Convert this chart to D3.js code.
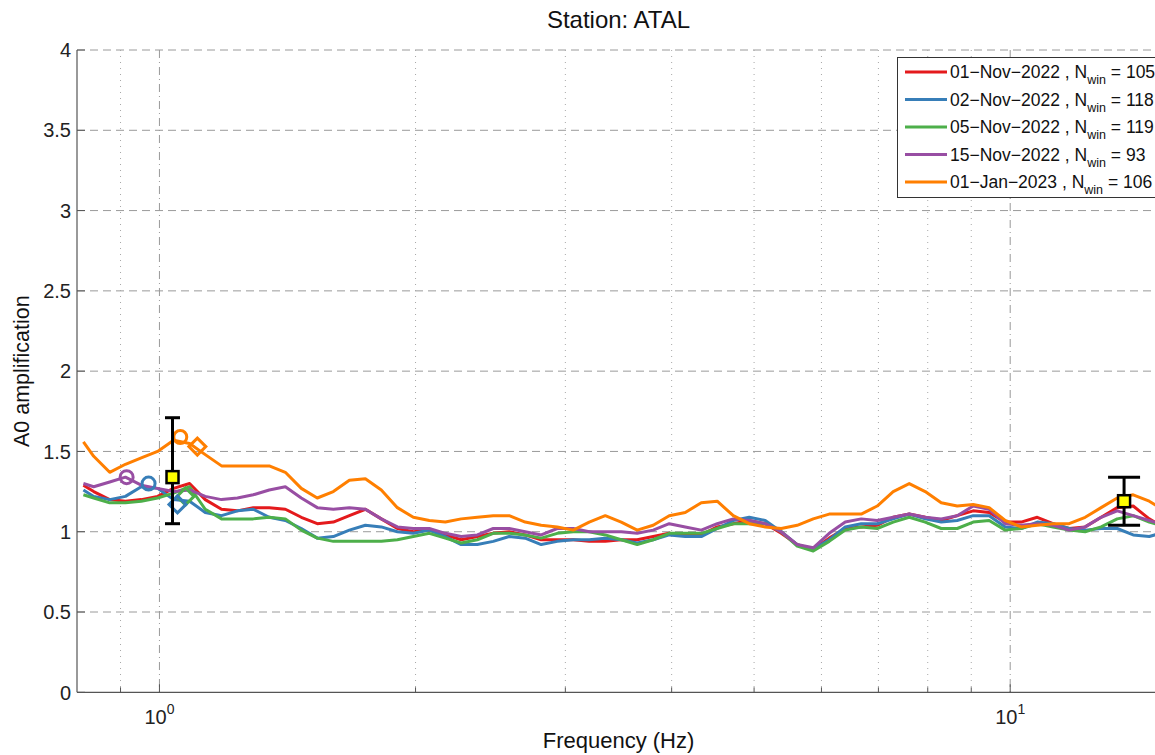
<!DOCTYPE html>
<html><head><meta charset="utf-8">
<script src="https://cdn.jsdelivr.net/npm/d3@7"></script>
<style>
html,body{margin:0;padding:0;background:#fff;overflow:hidden;}
svg{display:block;font-family:"Liberation Sans",Arial,Helvetica,sans-serif;}
</style></head>
<body><svg id="c" width="1155" height="755"></svg>
<script>
// ---------------- data ----------------
const freq = [0.814,0.837,0.874,0.912,0.952,0.995,1.039,1.085,1.132,1.183,1.235,1.289,1.346,1.406,1.468,1.533,1.601,1.672,1.746,1.823,1.904,1.988,2.076,2.168,2.263,2.364,2.468,2.577,2.691,2.810,2.935,3.065,3.200,3.342,3.490,3.644,3.805,3.974,4.150,4.334,4.525,4.726,4.935,5.153,5.381,5.619,5.868,6.127,6.399,6.682,6.977,7.286,7.609,7.945,8.297,8.664,9.047,9.447,9.866,10.30,10.76,11.23,11.73,12.25,12.79,13.36,13.95,14.57,15.0];

const nov01 = [1.29,1.25,1.20,1.19,1.20,1.22,1.27,1.30,1.20,1.14,1.13,1.15,1.15,1.14,1.09,1.05,1.06,1.10,1.14,1.08,1.02,1.00,1.01,0.98,0.95,0.97,0.99,1.00,0.98,0.95,0.95,0.95,0.94,0.94,0.95,0.95,0.97,0.99,0.98,0.98,1.03,1.05,1.07,1.05,0.99,0.92,0.89,0.96,1.02,1.03,1.04,1.09,1.11,1.09,1.07,1.10,1.13,1.12,1.06,1.06,1.09,1.05,1.02,1.03,1.09,1.15,1.16,1.08,1.04];
const nov02 = [1.26,1.22,1.20,1.22,1.28,1.27,1.20,1.19,1.12,1.10,1.13,1.14,1.09,1.07,1.02,0.96,0.97,1.01,1.04,1.03,1.00,0.99,1.01,0.97,0.92,0.92,0.94,0.97,0.96,0.92,0.94,0.95,0.95,0.96,0.95,0.93,0.95,0.98,0.97,0.97,1.02,1.07,1.09,1.07,1.00,0.92,0.89,0.95,1.03,1.05,1.05,1.08,1.11,1.08,1.06,1.07,1.10,1.10,1.03,1.02,1.06,1.05,1.02,1.01,1.02,1.02,0.98,0.97,0.99];
const nov05 = [1.23,1.21,1.18,1.18,1.19,1.21,1.24,1.28,1.14,1.08,1.08,1.08,1.09,1.08,1.01,0.96,0.94,0.94,0.94,0.94,0.95,0.97,0.99,0.96,0.93,0.95,0.99,0.99,0.98,0.96,0.99,1.00,1.00,0.98,0.95,0.92,0.95,0.99,0.99,0.99,1.02,1.05,1.05,1.05,1.00,0.91,0.88,0.94,1.01,1.03,1.02,1.06,1.09,1.06,1.02,1.02,1.06,1.07,1.01,1.02,1.05,1.03,1.01,1.00,1.03,1.08,1.10,1.06,1.04];
const nov15 = [1.30,1.28,1.31,1.34,1.29,1.27,1.25,1.26,1.22,1.20,1.21,1.23,1.26,1.28,1.21,1.15,1.14,1.15,1.14,1.08,1.03,1.02,1.02,0.99,0.97,0.98,1.02,1.02,1.00,0.98,1.02,1.02,1.00,1.00,1.00,0.99,1.01,1.05,1.03,1.01,1.05,1.08,1.07,1.05,1.00,0.92,0.90,0.99,1.06,1.08,1.07,1.09,1.11,1.09,1.08,1.10,1.16,1.14,1.05,1.04,1.05,1.04,1.01,1.03,1.09,1.13,1.10,1.07,1.05];
const jan01 = [1.56,1.47,1.37,1.42,1.46,1.50,1.57,1.55,1.48,1.41,1.41,1.41,1.41,1.37,1.27,1.21,1.25,1.32,1.33,1.26,1.15,1.09,1.07,1.06,1.08,1.09,1.10,1.10,1.06,1.04,1.03,1.01,1.06,1.10,1.06,1.01,1.04,1.10,1.12,1.18,1.19,1.10,1.05,1.03,1.02,1.04,1.08,1.11,1.11,1.11,1.16,1.25,1.30,1.25,1.18,1.16,1.17,1.15,1.07,1.03,1.04,1.05,1.05,1.09,1.15,1.21,1.23,1.19,1.15];

const seriesNames = ["01\u2212Nov\u22122022","02\u2212Nov\u22122022","05\u2212Nov\u22122022","15\u2212Nov\u22122022","01\u2212Jan\u22122023"];
const nwin = [105,118,119,93,106];
const seriesValues = [nov01,nov02,nov05,nov15,jan01];

// peak markers (series index, frequency, amplitude)
const circleSeries = [4,3,1];
const circleFreq = [1.058,0.915,0.971];
const circleAmp = [1.59,1.34,1.30];
const diamondSeries = [4,2,1];
const diamondFreq = [1.108,1.073,1.05];
const diamondAmp = [1.53,1.22,1.17];

// error bars
const ebFreq = [1.036,13.61];
const ebMean = [1.34,1.19];
const ebLow = [1.05,1.04];
const ebHigh = [1.71,1.34];

const yTicks = [0,0.5,1,1.5,2,2.5,3,3.5,4];
const yTickLabels = ["0","0.5","1","1.5","2","2.5","3","3.5","4"];
const xMajor = [1,10];
const xMajorExp = ["0","1"];
const xMinor = [0.9,2,3,4,5,6,7,8,9];

// ---------------- style ----------------
const colors = ["#e41a1c","#377eb8","#4daf4a","#984ea3","#ff7f00"];
const L=77, R=1160, T=50, B=692.3;
const capHalf = [7.5,16];

const svg = d3.select("#c");
const x = d3.scaleLog().domain([0.8,15]).range([L,R]);
const y = d3.scaleLinear().domain([0,4]).range([B,T]);

svg.append("defs").append("clipPath").attr("id","clip")
  .append("rect").attr("x",L).attr("y",T-10).attr("width",R-L).attr("height",B-T+10);

// grid
const g = svg.append("g");
g.selectAll("line.hg").data(yTicks.filter(d=>d>0)).join("line")
  .attr("x1",L).attr("x2",R).attr("y1",d=>y(d)).attr("y2",d=>y(d))
  .attr("stroke","#9a9a9a").attr("stroke-width",1).attr("stroke-dasharray","8,5");
g.selectAll("line.vmin").data(xMinor).join("line")
  .attr("x1",d=>x(d)).attr("x2",d=>x(d)).attr("y1",T).attr("y2",B)
  .attr("stroke","#a8a8a8").attr("stroke-width",1).attr("stroke-dasharray","1,5");
g.selectAll("line.vmaj").data(xMajor).join("line")
  .attr("x1",d=>x(d)).attr("x2",d=>x(d)).attr("y1",T).attr("y2",B)
  .attr("stroke","#999").attr("stroke-width",1).attr("stroke-dasharray","8,4,1,4");

// axes lines
svg.append("line").attr("x1",L).attr("x2",L).attr("y1",T).attr("y2",B).attr("stroke","#555").attr("stroke-width",1.2);
svg.append("line").attr("x1",L).attr("x2",R).attr("y1",B).attr("y2",B).attr("stroke","#555").attr("stroke-width",1.2);
// ticks
svg.selectAll("line.yt").data(yTicks).join("line")
  .attr("x1",L).attr("x2",L+8).attr("y1",d=>y(d)).attr("y2",d=>y(d)).attr("stroke","#555");
svg.selectAll("line.xt").data(xMajor.concat(xMinor)).join("line")
  .attr("x1",d=>x(d)).attr("x2",d=>x(d)).attr("y1",B).attr("y2",d=>B-(xMajor.includes(d)?8:5)).attr("stroke","#555");

// tick labels
svg.selectAll("text.yl").data(yTicks).join("text")
  .attr("x",L-6).attr("y",d=>y(d)).attr("dy","0.36em").attr("text-anchor","end")
  .attr("font-size",20).attr("fill","#222").text((d,i)=>yTickLabels[i]);
const xl = svg.selectAll("text.xl").data(xMajor).join("text")
  .attr("x",d=>x(d)).attr("y",724).attr("text-anchor","middle").attr("font-size",20).attr("fill","#222");
xl.append("tspan").text("10");
xl.append("tspan").attr("dy",-10).attr("font-size",14).text((d,i)=>xMajorExp[i]);

// titles
svg.append("text").attr("x",(L+R)/2).attr("y",28).attr("text-anchor","middle").attr("font-size",24).attr("fill","#111").text("Station: ATAL");
svg.append("text").attr("x",(L+R)/2).attr("y",748).attr("text-anchor","middle").attr("font-size",22).attr("fill","#111").text("Frequency (Hz)");
svg.append("text").attr("transform",`translate(29,${(T+B)/2}) rotate(-90)`).attr("text-anchor","middle").attr("font-size",21.5).attr("fill","#111").text("A0 amplification");

// lines
const line = d3.line().x((d,i)=>x(freq[i])).y(d=>y(d));
const plot = svg.append("g").attr("clip-path","url(#clip)");
seriesValues.forEach((vals,k)=>{
  plot.append("path").attr("d",line(vals)).attr("fill","none").attr("stroke",colors[k])
    .attr("stroke-width",3).attr("stroke-linejoin","round");
});

// markers
plot.selectAll("circle.pk").data(circleFreq).join("circle")
  .attr("cx",d=>x(d)).attr("cy",(d,i)=>y(circleAmp[i])).attr("r",6.5)
  .attr("fill","none").attr("stroke",(d,i)=>colors[circleSeries[i]]).attr("stroke-width",3);
plot.selectAll("path.dm").data(diamondFreq).join("path")
  .attr("d",(d,i)=>{const cx=x(d),cy=y(diamondAmp[i]),s=8.5;return `M${cx},${cy-s}L${cx+s},${cy}L${cx},${cy+s}L${cx-s},${cy}Z`;})
  .attr("fill","none").attr("stroke",(d,i)=>colors[diamondSeries[i]]).attr("stroke-width",3);

// error bars
ebFreq.forEach((f,i)=>{
  const cx=x(f), h=capHalf[i];
  const eg=svg.append("g").attr("stroke","#000").attr("stroke-width",3);
  eg.append("line").attr("x1",cx).attr("x2",cx).attr("y1",y(ebLow[i])).attr("y2",y(ebHigh[i]));
  eg.append("line").attr("x1",cx-h).attr("x2",cx+h).attr("y1",y(ebLow[i])).attr("y2",y(ebLow[i]));
  eg.append("line").attr("x1",cx-h).attr("x2",cx+h).attr("y1",y(ebHigh[i])).attr("y2",y(ebHigh[i]));
  svg.append("rect").attr("x",cx-6).attr("y",y(ebMean[i])-6).attr("width",12).attr("height",12)
    .attr("fill","#ffff00").attr("stroke","#000").attr("stroke-width",2.5);
});

// legend
const lg = svg.append("g");
lg.append("rect").attr("x",897.5).attr("y",57.5).attr("width",270).attr("height",140)
  .attr("fill","#fff").attr("stroke","#333").attr("stroke-width",1);
const rowY = [72,99.5,127,154.5,182];
seriesNames.forEach((nm,k)=>{
  lg.append("line").attr("x1",905).attr("x2",947).attr("y1",rowY[k]).attr("y2",rowY[k])
    .attr("stroke",colors[k]).attr("stroke-width",2.8);
  const t = lg.append("text").attr("x",950).attr("y",rowY[k]+6).attr("font-size",17.5).attr("fill","#111");
  t.append("tspan").text(nm+" , N");
  t.append("tspan").attr("dy",6).attr("font-size",12.5).text("win");
  t.append("tspan").attr("dy",-6).text(" = "+nwin[k]);
});
</script></body></html>
